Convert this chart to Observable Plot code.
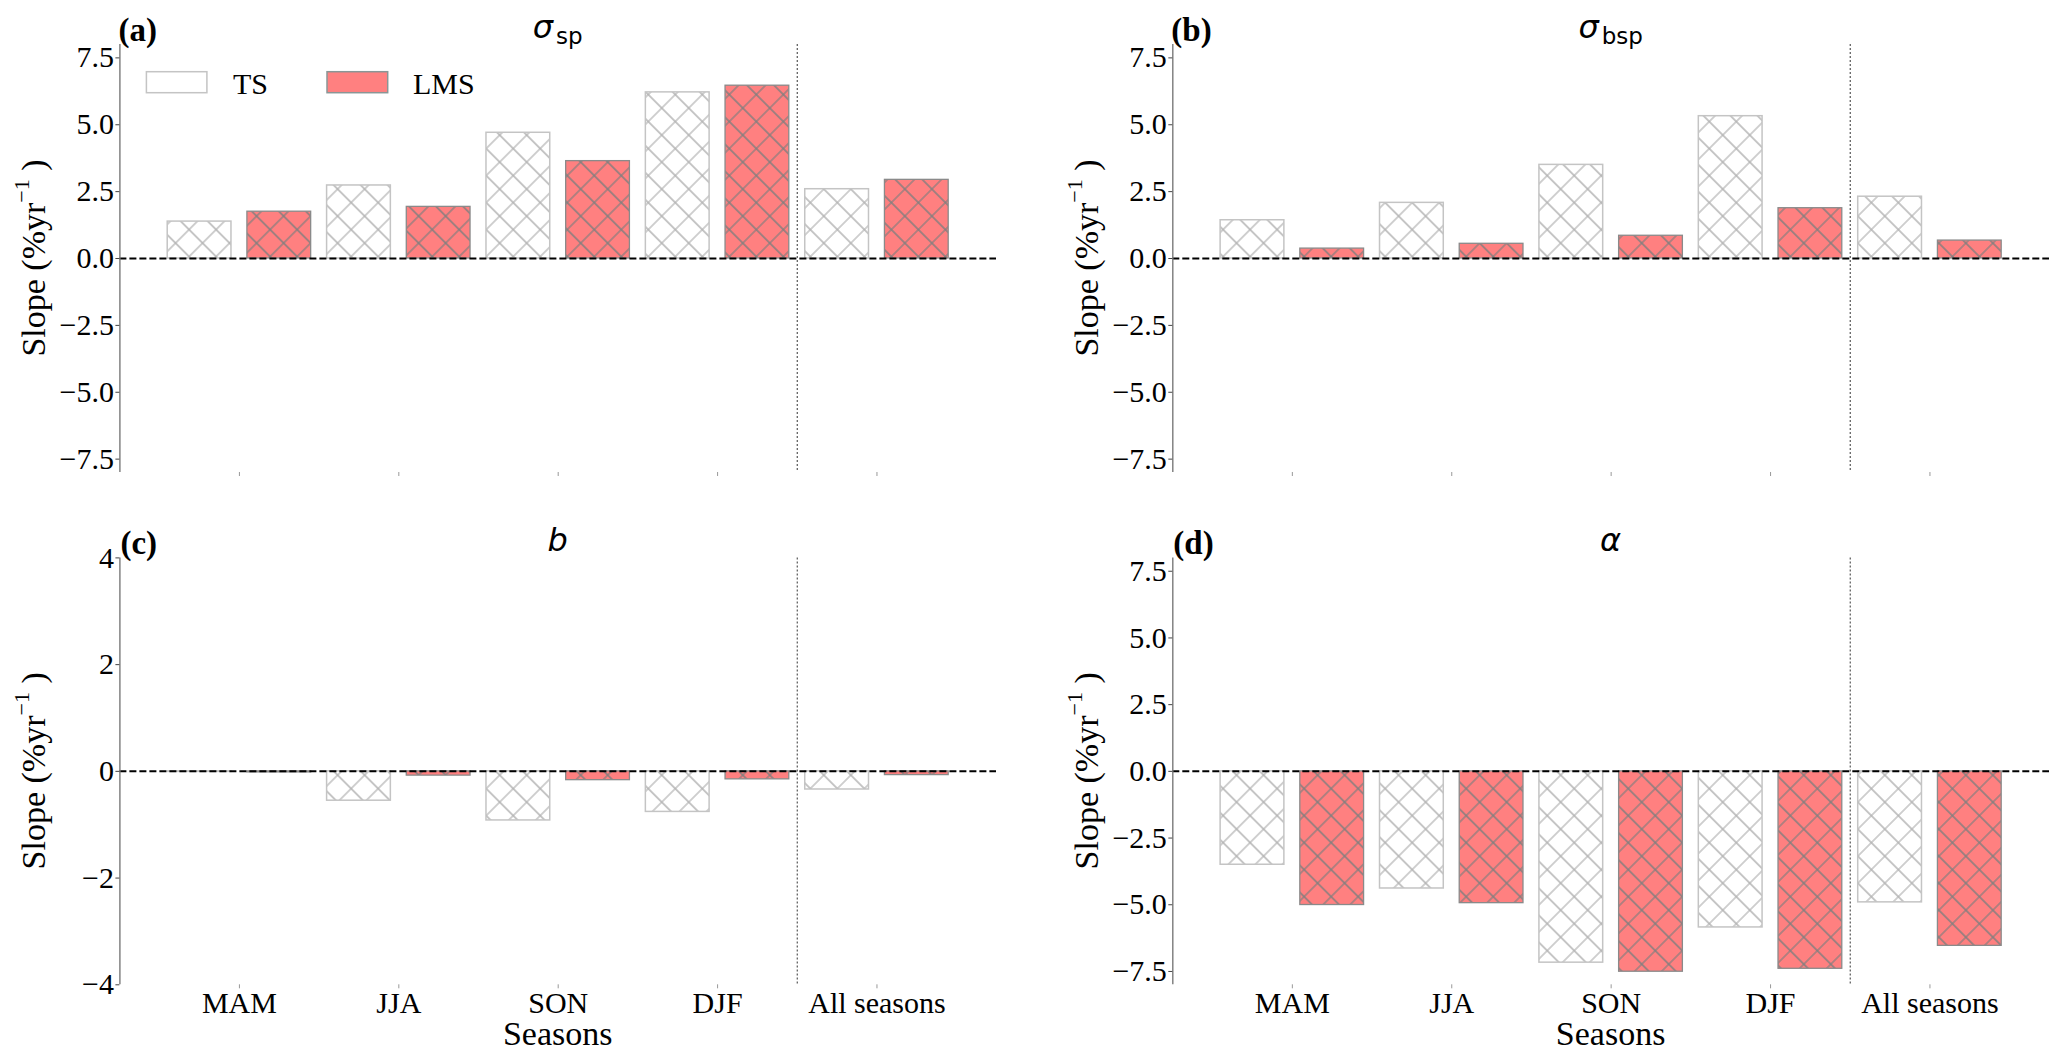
<!DOCTYPE html>
<html><head><meta charset="utf-8">
<script src="https://cdn.jsdelivr.net/npm/d3@7"></script>
<script src="https://cdn.jsdelivr.net/npm/@observablehq/plot@0.6"></script>
<style>
body{margin:0;background:#fff;}
#fig{position:relative;width:2067px;height:1064px;background:#fff;overflow:hidden;}
</style></head><body>
<svg width="0" height="0" style="position:absolute">
  <defs>
    <pattern id="hatchTS" patternUnits="userSpaceOnUse" width="19.1" height="19.1" patternTransform="rotate(45)">
      <rect width="19.1" height="19.1" fill="#ffffff"/>
      <path d="M0,9.55H19.1M9.55,0V19.1" stroke="#b2b2b2" stroke-width="1.2" fill="none"/>
    </pattern>
    <pattern id="hatchLMS" patternUnits="userSpaceOnUse" width="19.1" height="19.1" patternTransform="rotate(45)">
      <rect width="19.1" height="19.1" fill="#ff8080"/>
      <path d="M0,9.55H19.1M9.55,0V19.1" stroke="#7f7f7f" stroke-width="1.2" fill="none"/>
    </pattern>
  </defs>
</svg>
<div id="fig"></div>
<script>
// ---------------- data ----------------
const seasons = ["MAM", "JJA", "SON", "DJF", "All seasons"];
const seriesNames = ["TS", "LMS"];

const sigmaSpTS  = [1.38, 2.73, 4.70, 6.21, 2.59];
const sigmaSpLMS = [1.75, 1.93, 3.64, 6.46, 2.94];

const sigmaBspTS  = [1.43, 2.08, 3.50, 5.32, 2.31];
const sigmaBspLMS = [0.37, 0.55, 0.85, 1.88, 0.67];

const bTS  = [-0.01, -0.55, -0.92, -0.76, -0.34];
const bLMS = [-0.02, -0.08, -0.165, -0.15, -0.07];

const alphaTS  = [-3.50, -4.39, -7.17, -5.85, -4.91];
const alphaLMS = [-5.01, -4.94, -7.51, -7.40, -6.54];

const yTicksWide = [-7.5, -5.0, -2.5, 0, 2.5, 5.0, 7.5];
const yTicksNarrow = [-4, -2, 0, 2, 4];
const yDomainWide = [-8, 8];
const yDomainNarrow = [-4, 4];

// ---------------- layout ----------------
const panels = [
  {letter: "(a)", sym: "σ", sub: "sp",  ts: sigmaSpTS,  lms: sigmaSpLMS,  domain: yDomainWide,   ticks: yTicksWide,   fmt: d3.format(".1f"), left: 0,    top: 0,   width: 1034, ml: 119.4, mr: 38,  mt: 44,   mb: 60,   bottom: false, legend: true},
  {letter: "(b)", sym: "σ", sub: "bsp", ts: sigmaBspTS, lms: sigmaBspLMS, domain: yDomainWide,   ticks: yTicksWide,   fmt: d3.format(".1f"), left: 1034, top: 0,   width: 1033, ml: 138.3, mr: 18,  mt: 44,   mb: 60,   bottom: false, legend: false},
  {letter: "(c)", sym: "b", sub: "",    ts: bTS,        lms: bLMS,        domain: yDomainNarrow, ticks: yTicksNarrow, fmt: d3.format("d"),   left: 0,    top: 532, width: 1034, ml: 119.4, mr: 38,  mt: 25.4, mb: 79.7, bottom: true,  legend: false},
  {letter: "(d)", sym: "α", sub: "",    ts: alphaTS,    lms: alphaLMS,    domain: yDomainWide,   ticks: yTicksWide,   fmt: d3.format(".1f"), left: 1034, top: 532, width: 1033, ml: 138.3, mr: 18,  mt: 25.4, mb: 79.7, bottom: true,  legend: false}
];
const H = 532;
const fig = document.getElementById("fig");

for (const p of panels) {
  const rows = seasons.flatMap((s, i) => [
    {season: s, i, series: seriesNames[0], v: p.ts[i]},
    {season: s, i, series: seriesNames[1], v: p.lms[i]}
  ]);
  const tsRows = rows.filter(d => d.series === "TS");
  const lmsRows = rows.filter(d => d.series === "LMS");

  const svg = Plot.plot({
    width: p.width,
    height: H,
    marginLeft: p.ml,
    marginRight: p.mr,
    marginTop: p.mt,
    marginBottom: p.mb,
    style: {fontFamily: "Liberation Serif", fontSize: "30px", background: "transparent", color: "black", overflow: "visible"},
    x: {type: "linear", domain: [-0.75, 4.75]},
    y: {domain: p.domain},
    marks: [
      Plot.rect(tsRows, {x1: d => d.i - 0.45, x2: d => d.i - 0.05, y1: d => 0, y2: "v", fill: "url(#hatchTS)", stroke: "#c4c4c4", strokeWidth: 1.5}),
      Plot.rect(lmsRows, {x1: d => d.i + 0.05, x2: d => d.i + 0.45, y1: d => 0, y2: "v", fill: "url(#hatchLMS)", stroke: "#8a8a8a", strokeWidth: 1.3}),
      Plot.ruleY([0], {stroke: "black", strokeWidth: 2, strokeDasharray: "7,3"}),
      Plot.ruleX([3.5], {stroke: "#555", strokeWidth: 1.2, strokeDasharray: "2,2"}),
      Plot.ruleX([-0.75], {y1: p.domain[0], y2: p.domain[1], stroke: "#7a7a7a", strokeWidth: 1.4}),
      Plot.axisY({ticks: p.ticks, tickFormat: p.fmt, tickSize: 4, tickPadding: 2, fontSize: 30, label: null, stroke: "#444"}),
      Plot.axisX({ticks: [0, 1, 2, 3, 4], tickFormat: p.bottom ? (i => seasons[i]) : (() => ""), tickSize: 4, tickPadding: 3, fontSize: 30, label: null, stroke: "#999"})
    ]
  });
  svg.style.position = "absolute";
  svg.style.left = p.left + "px";
  svg.style.top = p.top + "px";
  svg.style.maxWidth = "none";
  fig.appendChild(svg);

  const g = d3.select(svg);
  const frameL = p.ml, frameR = p.width - p.mr, frameT = p.mt, frameB = H - p.mb;
  const cx = (frameL + frameR) / 2, cy = (frameT + frameB) / 2;
  const firstRow = p.top === 0;

  // panel letter
  g.append("text").attr("x", frameL + (firstRow ? -1 : 1)).attr("y", firstRow ? 40.5 : 22)
    .attr("text-anchor", "start")
    .style("font-family", "Liberation Serif").style("font-weight", "bold").style("font-size", "33px")
    .text(p.letter);

  // title
  const t = g.append("text").attr("x", cx).attr("y", firstRow ? 38 : 19)
    .attr("text-anchor", "middle").style("font-family", "DejaVu Sans").style("font-size", "32px");
  t.append("tspan").style("font-style", "italic").text(p.sym);
  if (p.sub) t.append("tspan").attr("dx", 3).attr("dy", 6).style("font-size", "23px").text(p.sub);

  // y label
  const yl = g.append("text").attr("transform", `translate(${frameL - 74},${cy}) rotate(-90)`)
    .attr("text-anchor", "middle").style("font-family", "Liberation Serif").style("font-size", "34px");
  yl.append("tspan").text("Slope (%yr");
  yl.append("tspan").attr("dy", -16).style("font-size", "22px").text("−1");
  yl.append("tspan").attr("dy", 16).text(" )");

  // x label
  if (p.bottom) {
    g.append("text").attr("x", cx).attr("y", 513).attr("text-anchor", "middle")
      .style("font-family", "Liberation Serif").style("font-size", "34px").text("Seasons");
  }

  // legend
  if (p.legend) {
    const lg = g.append("g").attr("text-anchor", "start");
    lg.append("rect").attr("x", 146.4).attr("y", 71.7).attr("width", 60.5).attr("height", 21)
      .attr("fill", "#ffffff").attr("stroke", "#c4c4c4").attr("stroke-width", 1.5);
    lg.append("text").attr("x", 233).attr("y", 94).style("font-family", "Liberation Serif").style("font-size", "30px").text(seriesNames[0]);
    lg.append("rect").attr("x", 327).attr("y", 71.7).attr("width", 60.7).attr("height", 21)
      .attr("fill", "#ff8080").attr("stroke", "#8a9696").attr("stroke-width", 1.5);
    lg.append("text").attr("x", 413).attr("y", 94).style("font-family", "Liberation Serif").style("font-size", "30px").text(seriesNames[1]);
  }
}
</script>
</body></html>
